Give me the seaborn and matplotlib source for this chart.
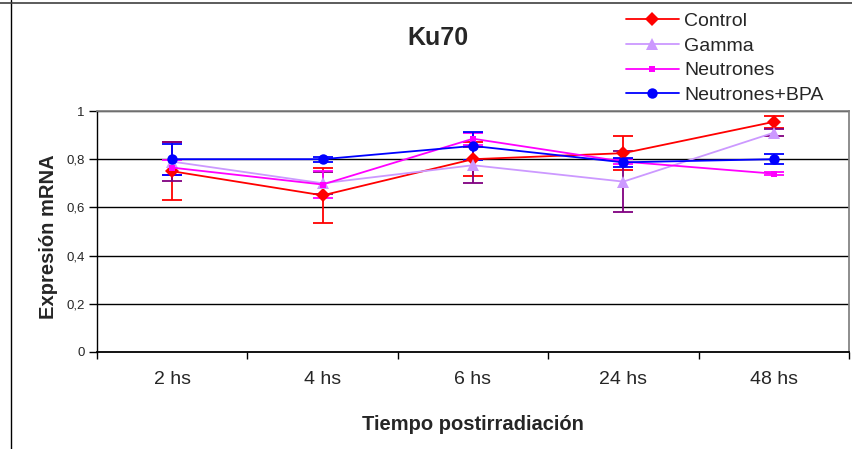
import matplotlib
matplotlib.use("Agg")
import matplotlib.pyplot as plt
from matplotlib.lines import Line2D
import seaborn as sns
import pandas as pd
import numpy as np

categories = ["2 hs", "4 hs", "6 hs", "24 hs", "48 hs"]
control = [0.75, 0.65, 0.80, 0.825, 0.955]
control_err = [0.12, 0.115, 0.07, 0.07, 0.025]
gamma = [0.79, 0.70, 0.775, 0.707, 0.91]
gamma_err = [0.08, 0.045, 0.075, 0.125, 0.015]
neutrones = [0.765, 0.695, 0.885, 0.79, 0.74]
neutrones_err = [0.03, 0.055, 0.025, 0.01, 0.005]
bpa = [0.80, 0.80, 0.855, 0.787, 0.80]
bpa_err = [0.065, 0.01, 0.058, 0.018, 0.02]

series = ["Control", "Gamma", "Neutrones", "Neutrones+BPA"]
values = [control, gamma, neutrones, bpa]
errors = [control_err, gamma_err, neutrones_err, bpa_err]
colors = ["#FF0000", "#CC99FF", "#FF00FF", "#0000FF"]
err_colors = ["#FF0000", "#800080", "#FF00FF", "#0000FF"]
markers = ["D", "^", "s", "o"]
msizes = [7, 8, 4.5, 7.5]

sns.set_theme(style="white")
plt.rcParams['font.family'] = ['Liberation Sans', 'DejaVu Sans']

rows = []
for s, v in zip(series, values):
    for i, c in enumerate(categories):
        rows.append({"pos": i, "cat": c, "serie": s, "val": v[i]})
df = pd.DataFrame(rows)

fig = plt.figure(figsize=(8.52, 4.49), dpi=100)
ax = fig.add_axes([97/852, (449-352)/449, (849-97)/852, (352-111)/449])

for s, v, e, col, ecol in zip(series, values, errors, colors, err_colors):
    ax.errorbar(range(len(categories)), v, yerr=e, fmt='none', ecolor=ecol,
                elinewidth=1.3, capsize=7, capthick=1.3, zorder=2)

sns.lineplot(data=df, x="pos", y="val", hue="serie", style="serie",
             palette=dict(zip(series, colors)), markers=dict(zip(series, markers)),
             dashes=False, linewidth=1.3, ax=ax, legend=False, zorder=3,
             markeredgewidth=0)
for line, ms in zip(ax.lines[-4:], msizes):
    line.set_markersize(ms)

ax.set_xlim(-0.5, 4.5)
ax.set_ylim(0, 1)
ax.set_yticks([0, 0.2, 0.4, 0.6, 0.8, 1.0])
ax.set_yticklabels(["0", "0,2", "0,4", "0,6", "0,8", "1"], fontsize=9.5)
ax.set_xticks(range(5))
ax.set_xticklabels(categories, fontsize=14)
ax.set_xticks(np.arange(-0.5, 5, 1), minor=True)
ax.tick_params(axis='x', which='major', length=0, pad=14)
ax.tick_params(axis='x', which='minor', length=5, width=1, color='black', direction='out', bottom=True)
ax.tick_params(axis='y', length=6, width=1, color='black', direction='out', left=True, pad=3)
for yv in [0.2, 0.4, 0.6, 0.8, 1.0]:
    ax.axhline(yv, color='black', linewidth=1, zorder=1)

ax.spines['left'].set_color('black')
ax.spines['bottom'].set_color('black')
ax.spines['left'].set_linewidth(1)
ax.spines['bottom'].set_linewidth(1.3)
ax.spines['top'].set_color('#808080')
ax.spines['right'].set_color('#808080')

ax.set_xlabel("Tiempo postirradiación", fontsize=14.5, fontweight='bold', labelpad=19)
ax.set_ylabel("Expresión mRNA", fontsize=14.5, fontweight='bold', labelpad=4)
ax.yaxis.set_label_coords(-39/752, 0.48)
fig.text(438/852, 1 - 38/449, "Ku70", fontsize=18, fontweight='bold', ha='center', va='center')

handles = [Line2D([0], [0], color=c, marker=m, markersize=ms, linewidth=1.3, markeredgewidth=0)
           for c, m, ms in zip(colors, markers, msizes)]
leg = fig.legend(handles, series, loc='upper left', bbox_to_anchor=(612/852, 1 + 1/449),
                 frameon=True, fontsize=14, handlelength=2.75, labelspacing=0.36,
                 borderpad=0.2, handletextpad=0.25)
leg.get_frame().set_facecolor('white')
leg.get_frame().set_edgecolor('white')
leg.get_frame().set_alpha(1)
leg.set_zorder(10)

fig.add_artist(Line2D([10.5/852, 10.5/852], [0, 1], color='black', linewidth=1, transform=fig.transFigure))
fig.add_artist(Line2D([0, 1], [1 - 3/449, 1 - 3/449], color='#404040', linewidth=1.2, transform=fig.transFigure))

fig.savefig("out.png", dpi=100)
